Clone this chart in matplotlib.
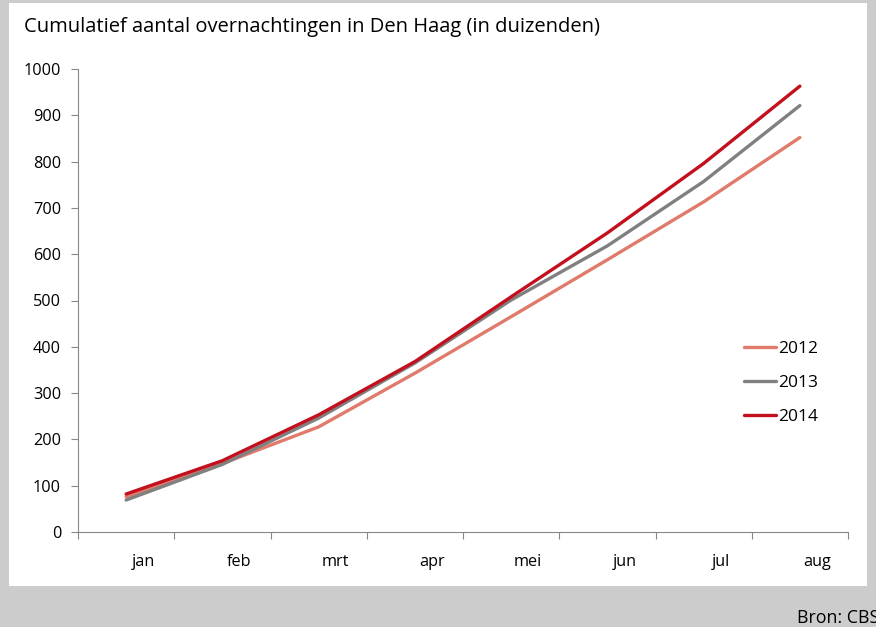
import numpy as np
import matplotlib
matplotlib.use("Agg")
import matplotlib.pyplot as plt
from matplotlib.patches import Rectangle
from matplotlib.transforms import ScaledTranslation

months = ["jan", "feb", "mrt", "apr", "mei", "jun", "jul", "aug"]
years = ["2012", "2013", "2014"]
v2012 = [76, 148, 227, 343, 465, 588, 713, 852]
v2013 = [69, 146, 246, 365, 501, 618, 757, 921]
v2014 = [82, 154, 253, 368, 508, 646, 796, 963]
colors = ["#e07b6c", "#808080", "#c3101e"]

plt.rcParams["font.family"] = ["Open Sans", "DejaVu Sans"]

fig = plt.figure(figsize=(8.76, 6.27), dpi=100)
fig.patch.set_facecolor("#cccccc")
W, H = 876, 627

# white card behind the chart
card = Rectangle((9 / W, 1 - 586 / H), (867 - 9) / W, (586 - 3) / H,
                 transform=fig.transFigure, facecolor="white",
                 edgecolor="none", zorder=-5)
fig.patches.append(card)

ax = fig.add_axes([78 / W, 1 - 532 / H, 770 / W, 463 / H])
ax.set_facecolor("none")
ax.set_zorder(2)

x = np.arange(len(months))
for vals, yr, c in zip([v2012, v2013, v2014], years, colors):
    ax.plot(x, vals, color=c, lw=2.4, label=yr, solid_capstyle="round")

ax.set_xlim(-0.5, len(months) - 0.5)
ax.set_ylim(0, 1000)
ax.set_yticks(range(0, 1001, 100))

ax.set_xticks(x)
ax.set_xticklabels(months)
ax.set_xticks(np.arange(-0.5, len(months)), minor=True)
ax.tick_params(axis="x", which="major", length=0, pad=16, labelsize=11.7)
ax.tick_params(axis="x", which="minor", length=5, width=0.8, color="#888888")
ax.tick_params(axis="y", length=5, width=0.8, color="#888888", pad=7.2, labelsize=11.7)

shift = ScaledTranslation(17 / 100, 0, fig.dpi_scale_trans)
for lab in ax.get_xticklabels():
    lab.set_transform(lab.get_transform() + shift)

for s in ["top", "right"]:
    ax.spines[s].set_visible(False)
for s in ["left", "bottom"]:
    ax.spines[s].set_color("#888888")
    ax.spines[s].set_linewidth(0.8)

leg = ax.legend(loc="center left", bbox_to_anchor=(728 / W, 1 - 383 / H),
                bbox_transform=fig.transFigure, frameon=False, fontsize=12.5,
                handlelength=1.85, handletextpad=0.15, labelspacing=1.03)

fig.text(24 / W, 1 - 32 / H, "Cumulatief aantal overnachtingen in Den Haag (in duizenden)",
         fontsize=14.5, va="baseline", ha="left")
fig.text(797 / W, 1 - 623 / H, "Bron: CBS", fontsize=12.8, va="baseline", ha="left")

fig.savefig("out.png", dpi=100, facecolor=fig.get_facecolor())
